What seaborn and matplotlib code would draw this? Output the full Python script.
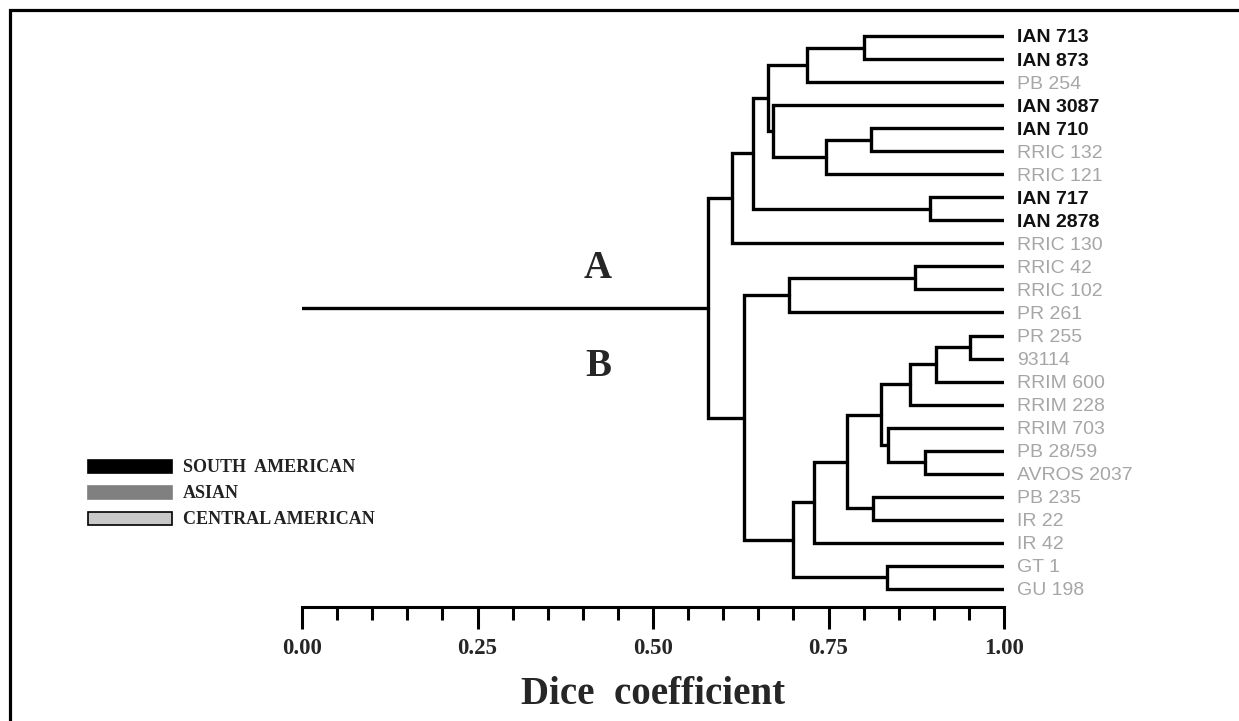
import matplotlib
matplotlib.use('Agg')
import matplotlib.pyplot as plt
from matplotlib.patches import Rectangle
from matplotlib.ticker import MultipleLocator
import pandas as pd
import seaborn as sns

###########################################################################################
# data

# leaves, top to bottom
leaf_names = ['IAN 713', 'IAN 873', 'PB 254', 'IAN 3087', 'IAN 710', 'RRIC 132',
              'RRIC 121', 'IAN 717', 'IAN 2878', 'RRIC 130', 'RRIC 42', 'RRIC 102',
              'PR 261', 'PR 255', '93114', 'RRIM 600', 'RRIM 228', 'RRIM 703',
              'PB 28/59', 'AVROS 2037', 'PB 235', 'IR 22', 'IR 42', 'GT 1', 'GU 198']
leaf_origin = ['SA', 'SA', 'AS', 'SA', 'SA', 'AS', 'AS', 'SA', 'SA', 'AS', 'AS', 'AS',
               'AS', 'AS', 'AS', 'AS', 'AS', 'AS', 'AS', 'AS', 'AS', 'AS', 'AS', 'CA', 'CA']

# merges: node ids 0-24 are leaves, merge k gets id 25 + k
merge_a = [0, 25, 4, 27, 3, 26, 7, 30, 32, 10, 34, 13, 36, 37, 18, 17, 38, 20, 41, 43, 23, 44, 35, 33]
merge_b = [1, 2, 5, 6, 28, 29, 8, 31, 9, 11, 12, 14, 15, 16, 19, 39, 40, 21, 42, 22, 24, 45, 46, 47]
merge_sim = [0.800, 0.720, 0.810, 0.746, 0.671, 0.664, 0.894, 0.643, 0.612, 0.873, 0.694,
             0.951, 0.903, 0.866, 0.887, 0.835, 0.825, 0.814, 0.776, 0.729, 0.833, 0.700,
             0.630, 0.579]

tick_values = [0.0, 0.25, 0.5, 0.75, 1.0]
tick_labels = ['0.00', '0.25', '0.50', '0.75', '1.00']

legend_labels = ['SOUTH  AMERICAN', 'ASIAN', 'CENTRAL AMERICAN']
legend_colors = ['#000000', '#808080', '#c8c8c8']

###########################################################################################
# build dendrogram segments

node_x = [1.0] * len(leaf_names)
node_y = [float(i) for i in range(len(leaf_names))]
rows = []
for k, (a, b, h) in enumerate(zip(merge_a, merge_b, merge_sim)):
    for px, py in [(node_x[a], node_y[a]), (h, node_y[a]), (h, node_y[b]), (node_x[b], node_y[b])]:
        rows.append({'seg': k, 'x': px, 'y': py})
    node_x.append(h)
    node_y.append((node_y[a] + node_y[b]) / 2)
# root stem
rows.append({'seg': len(merge_sim), 'x': 0.0, 'y': node_y[-1]})
rows.append({'seg': len(merge_sim), 'x': node_x[-1], 'y': node_y[-1]})
seg_df = pd.DataFrame(rows)

###########################################################################################
# plotting

sns.set_theme(style='white')
plt.rcParams['font.family'] = ['Liberation Sans', 'DejaVu Sans']

W, H = 1239, 721
fig = plt.figure(figsize=(W / 100, H / 100), dpi=100)
ax = fig.add_axes([302 / W, 114.3 / H, 702 / W, 586.7 / H])

sns.lineplot(data=seg_df, x='x', y='y', units='seg', estimator=None, sort=False,
             color='black', linewidth=2.4, solid_joinstyle='miter',
             legend=False, ax=ax)

ax.set_xlim(0, 1)
ax.set_ylim(24.77, -0.694)
ax.set_yticks([])
ax.set_ylabel('')
for side in ['top', 'left', 'right']:
    ax.spines[side].set_visible(False)
ax.spines['bottom'].set_linewidth(2.2)
ax.spines['bottom'].set_color('black')

ax.set_xticks(tick_values)
ax.set_xticklabels(tick_labels, fontfamily='Liberation Serif', fontweight='bold',
                   fontsize=16.5)
ax.xaxis.set_minor_locator(MultipleLocator(0.05))
ax.tick_params(axis='x', which='major', direction='out', length=15.8, width=2.2,
               pad=7, color='black', bottom=True)
ax.tick_params(axis='x', which='minor', direction='out', length=9.4, width=2.2,
               color='black', bottom=True)
ax.set_xlabel('Dice  coefficient', fontfamily='Liberation Serif', fontweight='bold',
              fontsize=28, labelpad=12)

# leaf labels
for i, (name, origin) in enumerate(zip(leaf_names, leaf_origin)):
    south = origin == 'SA'
    ax.text(1.019, i, name, va='center_baseline', ha='left', fontsize=14,
            fontweight='bold' if south else 'normal',
            color='#111111' if south else '#a6a6a6', clip_on=False)

# overlay in pixel coordinates: frame, cluster letters, legend
ov = fig.add_axes([0, 0, 1, 1])
ov.set_xlim(0, W)
ov.set_ylim(H, 0)
ov.axis('off')
ov.patch.set_alpha(0)

ov.plot([10, 10, W], [H, 10, 10], color='black', linewidth=2.3, solid_joinstyle='miter')

ov.text(598, 268, 'A', fontfamily='Liberation Serif', fontweight='bold', fontsize=28,
        ha='center', va='center')
ov.text(598, 367, 'B', fontfamily='Liberation Serif', fontweight='bold', fontsize=28,
        ha='center', va='center')

box_top = [460, 486, 512]
for top, lab, col in zip(box_top, legend_labels, legend_colors):
    ov.add_patch(Rectangle((88, top), 84, 13, facecolor=col,
                           edgecolor='black' if col == '#c8c8c8' else col, linewidth=1.2))
    ov.text(183, top + 7, lab, fontfamily='Liberation Serif', fontweight='bold',
            fontsize=13, color='#222222', ha='left', va='center')

fig.savefig('out.png', dpi=100)
